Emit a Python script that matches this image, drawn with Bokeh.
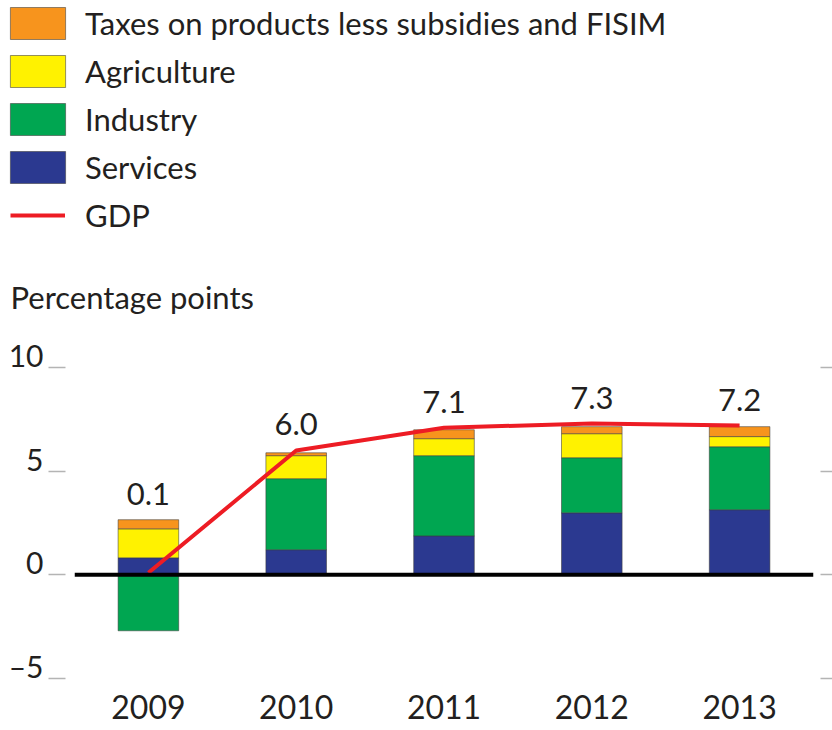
from bokeh.plotting import figure
from bokeh.models import (FactorRange, Range1d, Legend, LegendItem, Span, Label,
                          FixedTicker, ColumnDataSource, LinearAxis)
from bokeh.layouts import column
from bokeh.embed import file_html
from bokeh.resources import INLINE
from bokeh.core.properties import value

years = ["2009", "2010", "2011", "2012", "2013"]
services = [0.82, 1.21, 1.88, 2.99, 3.14]
industry = [-2.70, 3.43, 3.87, 2.66, 3.04]
agriculture = [1.40, 1.11, 0.82, 1.16, 0.49]
taxes = [0.44, 0.14, 0.43, 0.34, 0.48]
gdp = [0.1, 6.0, 7.1, 7.3, 7.2]
gdp_labels = ["0.1", "6.0", "7.1", "7.3", "7.2"]
y_ticks = [-5, 0, 5, 10]
y_tick_labels = ["\u20135", "0", "5", "10"]

FONT = "Lato"
TXT = "#231f20"
TAX = "Taxes on products less subsidies and FISIM"

series = [
    ("Services", services, "#2b3990"),
    ("Industry", industry, "#00a651"),
    ("Agriculture", agriculture, "#fff200"),
    (TAX, taxes, "#f7941d"),
]
BAR_LINE = dict(line_color="#3a3a3a", line_alpha=0.55, line_width=1)
GDP_STYLE = dict(line_color="#ed1c24", line_width=4)


def no_align(fig):
    if "frame_align" in fig.properties():
        fig.frame_align = False


# ---------------- top: legend + unit label ----------------
# legend sample renderers (hidden; they only lend their style to the legend)
top = figure(width=832, height=330, output_backend="svg", toolbar_location=None,
             x_range=FactorRange(factors=years), y_range=Range1d(-100, -99),
             x_axis_location=None, y_axis_location=None, title=None,
             min_border_left=0, min_border_right=0, min_border_top=0, min_border_bottom=0)
no_align(top)
top.outline_line_color = None
top.xgrid.visible = False
top.ygrid.visible = False
leg_r = {}
for name, vals, col in series:
    leg_r[name] = top.vbar(x=years, top=vals, width=0.41, fill_color=col,
                           visible=False, **BAR_LINE)
leg_r["GDP"] = top.line(x=years, y=gdp, visible=False, **GDP_STYLE)

LEG_TXT = dict(padding=0, margin=0, border_line_color=None, background_fill_alpha=0,
               label_text_font=FONT, label_text_font_size="31px", label_text_color=TXT,
               orientation="vertical")
legend_bars = Legend(items=[LegendItem(label=n, renderers=[leg_r[n]])
                            for n in [TAX, "Agriculture", "Industry", "Services"]],
                     location=(3, 143), glyph_width=69, glyph_height=40, label_height=40,
                     spacing=8, label_standoff=13, **LEG_TXT)
legend_gdp = Legend(items=[LegendItem(label="GDP", renderers=[leg_r["GDP"]])],
                    location=(10, 95), glyph_width=55, glyph_height=40, label_height=40,
                    spacing=0, label_standoff=20, **LEG_TXT)
top.add_layout(legend_bars, "center")
top.add_layout(legend_gdp, "center")
top.add_layout(Label(x=10, y=34, x_units="screen", y_units="screen",
                     text="Percentage points", text_font=FONT, text_font_size="31px",
                     text_color=TXT, text_baseline="alphabetic"))

# ---------------- bottom: the chart ----------------
p = figure(x_range=FactorRange(factors=years), y_range=Range1d(-5.05, 11.5),
           width=832, height=400, output_backend="svg", toolbar_location=None,
           title=None, min_border_left=74, min_border_right=19,
           min_border_top=6, min_border_bottom=51)
no_align(p)
p.outline_line_color = None
p.xgrid.visible = False
p.ygrid.visible = False

pos_base = [0.0] * len(years)
neg_base = [0.0] * len(years)
for name, vals, col in series:
    bottoms, tops = [], []
    for i, v in enumerate(vals):
        if v >= 0:
            bottoms.append(pos_base[i]); tops.append(pos_base[i] + v); pos_base[i] += v
        else:
            bottoms.append(neg_base[i] + v); tops.append(neg_base[i]); neg_base[i] += v
    src = ColumnDataSource(dict(x=years, bottom=bottoms, top=tops))
    p.vbar(x="x", bottom="bottom", top="top", width=0.41, source=src,
           fill_color=col, **BAR_LINE)

p.add_layout(Span(location=0, dimension="width", line_color="black", line_width=4))
p.line(x=years, y=gdp, **GDP_STYLE)

label_base = [max(a, b) for a, b in zip(pos_base, gdp)]
p.text(x=years, y=label_base, text=gdp_labels, y_offset=-26,
       text_align="center", text_baseline="alphabetic",
       text_font=value(FONT), text_font_size="31px", text_color=TXT)

# left axis: ticks only
ya = p.yaxis[0]
ya.ticker = FixedTicker(ticks=y_ticks)
ya.major_label_overrides = {t: "" for t in y_ticks}
ya.major_label_standoff = 0
ya.axis_line_color = None
ya.minor_tick_line_color = None
ya.major_tick_line_color = "#b4b4b4"
ya.major_tick_line_width = 1.5
ya.major_tick_in = -9
ya.major_tick_out = 26

# left axis: labels that sit on the ticks
shift = 0.6
lab_ticks = [t + shift for t in y_ticks]
yl = LinearAxis(ticker=FixedTicker(ticks=lab_ticks),
                major_label_overrides={t: s for t, s in zip(lab_ticks, y_tick_labels)},
                axis_line_color=None, major_tick_line_color=None, minor_tick_line_color=None,
                major_tick_in=0, major_tick_out=0, major_label_standoff=5,
                major_label_text_font=FONT, major_label_text_font_size="30px",
                major_label_text_color=TXT)
p.add_layout(yl, "left")

# right axis: ticks only
yr = LinearAxis(ticker=FixedTicker(ticks=y_ticks),
                major_label_overrides={t: "" for t in y_ticks},
                major_label_standoff=0,
                axis_line_color=None, minor_tick_line_color=None,
                major_tick_line_color="#b4b4b4", major_tick_line_width=1.5,
                major_tick_in=-7, major_tick_out=19)
p.add_layout(yr, "right")

p.xaxis.axis_line_color = None
p.xaxis.major_tick_line_color = None
p.xaxis.major_tick_out = 0
p.xaxis.major_tick_in = 0
p.xaxis.major_label_standoff = 15
p.xaxis.major_label_text_font = FONT
p.xaxis.major_label_text_font_size = "32px"
p.xaxis.major_label_text_color = TXT

layout = column(top, p, spacing=0)
open("out.html", "w").write(file_html(layout, INLINE))
